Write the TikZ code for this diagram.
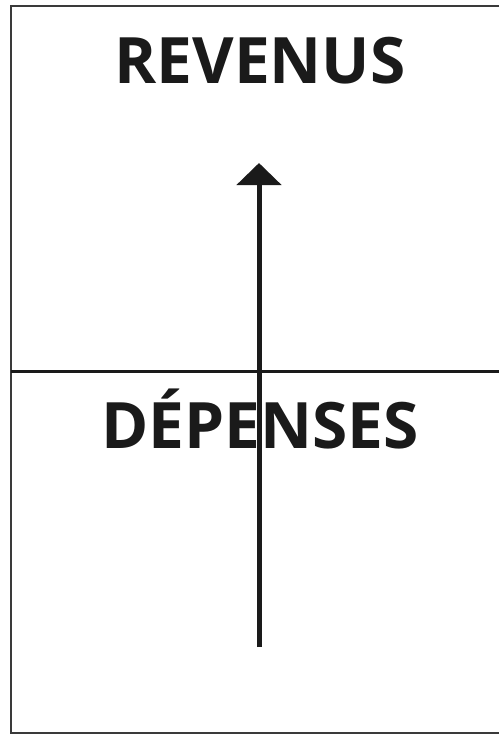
\documentclass[tikz,border=0pt]{standalone}
\usepackage{fontspec}
\usepackage{tikz}
\usetikzlibrary{arrows.meta}
\setmainfont{Open Sans}
\definecolor{Ink}{HTML}{1A1A1A}
\definecolor{FrameGray}{HTML}{3A3A3A}

\begin{document}
\begin{tikzpicture}[
  x=1pt, y=-1pt,
  title/.style={anchor=base, inner sep=0pt, text=Ink, font=\fontsize{64}{70}\selectfont\bfseries},
  frameline/.style={draw=FrameGray, line width=2pt},
  axis/.style={draw=Ink, line width=3pt},
  arrow/.style={-{Triangle[width=44pt, length=22pt]}, draw=Ink, line width=5pt}
]
\useasboundingbox (0,0) rectangle (499,734);
\draw[frameline] (499,6) -- (11,6) -- (11,733) -- (499,733);
\coordinate (left) at (11,371);
\coordinate (right) at (499,371);
\draw[axis] (left) -- (right);
\node[title] (revenus) at (260,83) {REVENUS};
\node[title] (depenses) at (260,448) {DÉPENSES};
\coordinate (base) at (259,647);
\coordinate (tip) at (259,163);
\draw[arrow] (base) -- (tip);
\end{tikzpicture}
\end{document}
